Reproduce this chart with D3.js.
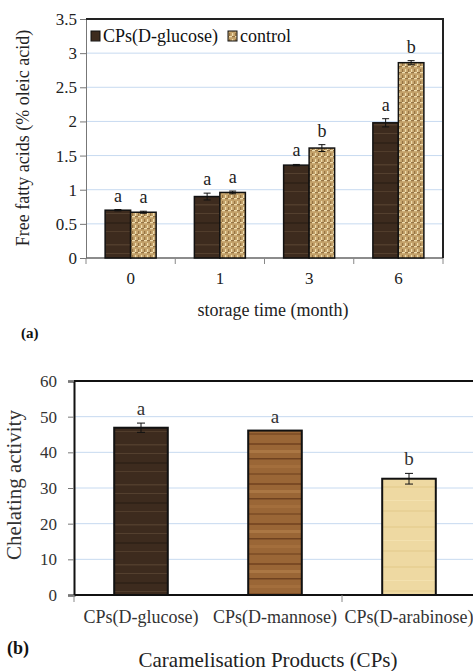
<!DOCTYPE html>
<html>
<head>
<meta charset="utf-8">
<script src="https://cdn.jsdelivr.net/npm/d3@7"></script>
<style>
  body { margin: 0; background: #fff; }
  svg, svg text { font-family: "Liberation Serif", "DejaVu Serif", serif; }
</style>
</head>
<body>
<svg id="fig" width="473" height="671"></svg>
<script>
// panel (a) data
const months = ["0", "1", "3", "6"];
const glucoseFFA = [0.70, 0.90, 1.36, 1.98];
const glucoseErr = [0.01, 0.05, 0.01, 0.06];
const controlFFA = [0.67, 0.96, 1.61, 2.86];
const controlErr = [0.015, 0.02, 0.05, 0.03];
const glucoseLetters = ["a", "a", "a", "a"];
const controlLetters = ["a", "a", "b", "b"];
const ffaTicks = ["0", "0.5", "1", "1.5", "2", "2.5", "3", "3.5"];

// panel (b) data
const products = ["CPs(D-glucose)", "CPs(D-mannose)", "CPs(D-arabinose)"];
const chelating = [46.9, 46.1, 32.6];
const chelatingErr = [1.3, 0, 1.5];
const chelatingLetters = ["a", "a", "b"];
const chelTicks = [0, 10, 20, 30, 40, 50, 60];

const svg = d3.select("#fig");
const defs = svg.append("defs");

// textures, roughly like the picture fills
function woodPattern(id, base, grains) {
  const p = defs.append("pattern").attr("id", id)
    .attr("patternUnits", "userSpaceOnUse").attr("width", 60).attr("height", 40);
  p.append("rect").attr("width", 60).attr("height", 40).attr("fill", base);
  grains.forEach(g => {
    p.append("rect").attr("x", 0).attr("y", g[0]).attr("width", 60).attr("height", g[1])
      .attr("fill", g[2]).attr("opacity", g[3]);
  });
}
woodPattern("darkwood", "#3d2b1e", [[4, 1.5, "#5a4532", 0.7], [13, 1, "#6b5640", 0.5], [22, 2, "#2c1f15", 0.7], [31, 1, "#665039", 0.5]]);
woodPattern("midwood", "#9a6636", [[3, 2, "#6e3f1c", 0.7], [10, 3, "#b5824c", 0.6], [18, 1.5, "#5d3417", 0.7], [25, 3, "#a8733f", 0.6], [33, 2, "#7a4a24", 0.7]]);
woodPattern("paper", "#eed9a2", [[6, 2, "#e4cb8c", 0.6], [20, 1, "#f5e4b6", 0.7], [30, 2, "#e2c98a", 0.5]]);

const burlap = defs.append("pattern").attr("id", "burlap")
  .attr("patternUnits", "userSpaceOnUse").attr("width", 6).attr("height", 6);
burlap.append("rect").attr("width", 6).attr("height", 6).attr("fill", "#c4a26a");
burlap.append("rect").attr("x", 0).attr("y", 0).attr("width", 3).attr("height", 1.2).attr("fill", "#eedcae");
burlap.append("rect").attr("x", 3).attr("y", 3).attr("width", 1.2).attr("height", 3).attr("fill", "#eedcae");
burlap.append("rect").attr("x", 0).attr("y", 3).attr("width", 1.2).attr("height", 3).attr("fill", "#967444");
burlap.append("rect").attr("x", 3).attr("y", 0).attr("width", 3).attr("height", 1.2).attr("fill", "#967444");

const gridColor = "#c7daf0";
const serif = "Liberation Serif, DejaVu Serif, serif";

// ---------------- panel (a) ----------------
const aLeft = 86, aRight = 443, aTop = 19, aBottom = 258;
const xA = d3.scaleBand().domain(months).range([aLeft, aRight]).padding(0);
const yA = d3.scaleLinear().domain([0, 3.5]).range([aBottom, aTop]);
const barW = 25.5;

const gA = svg.append("g");

gA.selectAll("line.grid").data(ffaTicks.map(Number).filter(v => v > 0 && v < 3.5))
  .join("line").attr("class", "grid")
  .attr("x1", aLeft).attr("x2", aRight)
  .attr("y1", d => yA(d)).attr("y2", d => yA(d))
  .attr("stroke", gridColor).attr("stroke-width", 1);

const yAxisA = gA.append("g").attr("transform", `translate(${aLeft},0)`)
  .call(d3.axisLeft(yA).tickValues(ffaTicks.map(Number)).tickFormat((d, i) => ffaTicks[i]).tickSize(6).tickPadding(3))
  .attr("font-family", serif);
yAxisA.select(".domain").attr("stroke", "#777");
yAxisA.selectAll(".tick line").attr("stroke", "#777");
yAxisA.selectAll("text").attr("font-size", 17).attr("fill", "#222");

// category boundary ticks
const bAxisA = gA.append("g").attr("transform", `translate(0,${aBottom})`);
bAxisA.append("line").attr("x1", aLeft).attr("x2", aRight).attr("stroke", "#666").attr("stroke-width", 1.5);
bAxisA.selectAll("line.bt").data(months.concat(["end"]))
  .join("line").attr("class", "bt")
  .attr("x1", (d, i) => i < months.length ? xA(d) : aRight)
  .attr("x2", (d, i) => i < months.length ? xA(d) : aRight)
  .attr("y1", 0).attr("y2", 6).attr("stroke", "#888");
bAxisA.selectAll("text").data(months).join("text")
  .attr("x", d => xA(d) + xA.bandwidth() / 2).attr("y", 26)
  .attr("text-anchor", "middle").attr("font-size", 17).attr("fill", "#222")
  .text(d => d);

// frame top/right
gA.append("path")
  .attr("d", `M${aLeft},${aTop}H${aRight}V${aBottom}`)
  .attr("fill", "none").attr("stroke", "#222").attr("stroke-width", 2);

const seriesA = [
  { vals: glucoseFFA, err: glucoseErr, letters: glucoseLetters, fill: "url(#darkwood)", off: -barW },
  { vals: controlFFA, err: controlErr, letters: controlLetters, fill: "url(#burlap)", off: 0 }
];

seriesA.forEach(s => {
  const g = gA.append("g");
  const cx = (d, i) => xA(months[i]) + xA.bandwidth() / 2 + s.off;
  g.selectAll("rect").data(s.vals).join("rect")
    .attr("x", cx).attr("y", d => yA(d))
    .attr("width", barW).attr("height", d => aBottom - yA(d))
    .attr("fill", s.fill).attr("stroke", "#111").attr("stroke-width", 1.5);
  g.selectAll("path.err").data(s.vals).join("path").attr("class", "err")
    .attr("d", (d, i) => {
      const x = cx(d, i) + barW / 2, y1 = yA(d + s.err[i]), y2 = yA(d - s.err[i]);
      return `M${x - 3.5},${y1}H${x + 3.5}M${x},${y1}V${y2}M${x - 3.5},${y2}H${x + 3.5}`;
    })
    .attr("stroke", "#111").attr("stroke-width", 1).attr("fill", "none");
  g.selectAll("text").data(s.vals).join("text")
    .attr("x", (d, i) => cx(d, i) + barW / 2)
    .attr("y", (d, i) => yA(d + s.err[i]) - 8)
    .attr("text-anchor", "middle").attr("font-size", 18).attr("fill", "#222")
    .text((d, i) => s.letters[i]);
});

// legend
const legA = gA.append("g").attr("transform", "translate(91,36)");
legA.append("rect").attr("x", 0).attr("y", -5).attr("width", 9).attr("height", 10)
  .attr("fill", "url(#darkwood)").attr("stroke", "#111").attr("stroke-width", 1);
legA.append("text").attr("x", 12).attr("y", 6).attr("font-size", 18).attr("fill", "#111").text("CPs(D-glucose)");
legA.append("rect").attr("x", 137).attr("y", -5).attr("width", 9).attr("height", 10)
  .attr("fill", "url(#burlap)").attr("stroke", "#111").attr("stroke-width", 1);
legA.append("text").attr("x", 149).attr("y", 6).attr("font-size", 18).attr("fill", "#111").text("control");

gA.append("text")
  .attr("transform", `translate(29,138) rotate(-90)`)
  .attr("text-anchor", "middle").attr("font-size", 18).attr("fill", "#222")
  .text("Free fatty acids (% oleic acid)");
gA.append("text").attr("x", 273).attr("y", 316).attr("text-anchor", "middle")
  .attr("font-size", 18).attr("fill", "#222").text("storage time (month)");
gA.append("text").attr("x", 21).attr("y", 338).attr("font-size", 15)
  .attr("font-weight", "bold").attr("fill", "#111").text("(a)");

// ---------------- panel (b) ----------------
const bLeft = 74, bTop = 381, bBottom = 595;
const bRight = bLeft + 134 * products.length;
const xB = d3.scaleBand().domain(products).range([bLeft, bRight]).padding(0);
const yB = d3.scaleLinear().domain([0, 60]).range([bBottom, bTop]);
const barWB = 53.6;
const fillsB = ["url(#darkwood)", "url(#midwood)", "url(#paper)"];

const gB = svg.append("g");

gB.selectAll("line.grid").data(chelTicks.filter(v => v > 0 && v < 60))
  .join("line").attr("class", "grid")
  .attr("x1", bLeft).attr("x2", bRight)
  .attr("y1", d => yB(d)).attr("y2", d => yB(d))
  .attr("stroke", gridColor).attr("stroke-width", 1);

const yAxisB = gB.append("g").attr("transform", `translate(${bLeft},0)`)
  .call(d3.axisLeft(yB).tickValues(chelTicks).tickSize(6).tickPadding(11))
  .attr("font-family", serif);
yAxisB.select(".domain").attr("stroke", "#111").attr("stroke-width", 2);
yAxisB.selectAll(".tick line").attr("stroke", "#777");
yAxisB.selectAll("text").attr("font-size", 17).attr("fill", "#333");

gB.append("line").attr("x1", bLeft).attr("x2", bRight).attr("y1", bTop).attr("y2", bTop)
  .attr("stroke", "#111").attr("stroke-width", 2);
gB.append("line").attr("x1", bLeft).attr("x2", bRight).attr("y1", bBottom).attr("y2", bBottom)
  .attr("stroke", "#111").attr("stroke-width", 2);
gB.selectAll("line.bt").data([bLeft, xB(products[2]), bRight])
  .join("line").attr("class", "bt")
  .attr("x1", d => d).attr("x2", d => d).attr("y1", bBottom).attr("y2", bBottom + 7)
  .attr("stroke", "#888");

gB.selectAll("text.cat").data(products).join("text").attr("class", "cat")
  .attr("x", d => xB(d) + xB.bandwidth() / 2).attr("y", 623)
  .attr("text-anchor", "middle").attr("font-size", 18).attr("fill", "#333")
  .text(d => d);

const cxB = (d, i) => xB(products[i]) + xB.bandwidth() / 2;
gB.selectAll("rect.bar").data(chelating).join("rect").attr("class", "bar")
  .attr("x", (d, i) => cxB(d, i) - barWB / 2).attr("y", d => yB(d))
  .attr("width", barWB).attr("height", d => bBottom - yB(d))
  .attr("fill", (d, i) => fillsB[i]).attr("stroke", "#111").attr("stroke-width", 2);
gB.selectAll("path.err").data(chelating).join("path").attr("class", "err")
  .attr("d", (d, i) => {
    if (!chelatingErr[i]) return null;
    const x = cxB(d, i), y1 = yB(d + chelatingErr[i]), y2 = yB(d - chelatingErr[i]);
    return `M${x - 4},${y1}H${x + 4}M${x},${y1}V${y2}M${x - 4},${y2}H${x + 4}`;
  })
  .attr("stroke", "#111").attr("stroke-width", 1).attr("fill", "none");
gB.selectAll("text.let").data(chelating).join("text").attr("class", "let")
  .attr("x", (d, i) => cxB(d, i))
  .attr("y", (d, i) => yB(d + chelatingErr[i]) - 8)
  .attr("text-anchor", "middle").attr("font-size", 19).attr("fill", "#333")
  .text((d, i) => chelatingLetters[i]);

gB.append("text")
  .attr("transform", `translate(21,485) rotate(-90)`)
  .attr("text-anchor", "middle").attr("font-size", 21).attr("fill", "#333")
  .text("Chelating activity");
gB.append("text").attr("x", 268).attr("y", 667).attr("text-anchor", "middle")
  .attr("font-size", 21).attr("fill", "#222").text("Caramelisation Products (CPs)");
gB.append("text").attr("x", 7).attr("y", 654).attr("font-size", 18)
  .attr("font-weight", "bold").attr("fill", "#111").text("(b)");
</script>
</body>
</html>
